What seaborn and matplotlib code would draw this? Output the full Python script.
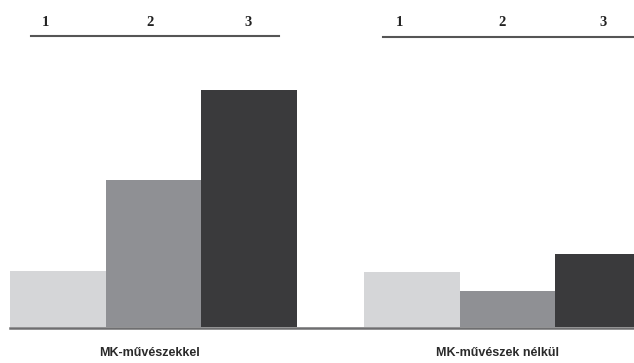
import matplotlib
matplotlib.use("Agg")
import matplotlib.pyplot as plt
import seaborn as sns
import pandas as pd
from matplotlib.lines import Line2D

groups = ["MK-művészekkel", "MK-művészek nélkül"]
categories = ["1", "2", "3"]
values_with = [56, 147, 237]
values_without = [55, 36, 73]
colors = ["#d5d6d8", "#8f9094", "#3a3a3c"]

df = pd.DataFrame({
    "group": [groups[0]] * 3 + [groups[1]] * 3,
    "cat": categories * 2,
    "value": values_with + values_without,
})

W, H = 634, 363
fig = plt.figure(figsize=(W / 100, H / 100), dpi=100)
fig.patch.set_facecolor("white")
ax = fig.add_axes([0, 0, 1, 1])
sns.barplot(data=df, x="group", y="value", hue="cat", order=groups,
            hue_order=categories, palette=colors, width=0.81, gap=0,
            saturation=1, ax=ax, legend=False, linewidth=0)
ax.set_xlim(-0.4335, 1.3575)
ax.set_ylim(-36, 327)
ax.axis("off")

# baseline
fig.add_artist(Line2D([10 / W, 1], [1 - 327.5 / H] * 2, color="#6e6e70", lw=1.8))

# top category rules and labels
fig.add_artist(Line2D([31 / W, 279 / W], [1 - 36 / H] * 2, color="#555555", lw=1.5))
fig.add_artist(Line2D([383 / W, 1], [1 - 37 / H] * 2, color="#555555", lw=1.5))
left_pos = [45, 150, 248]
right_pos = [399, 502, 603]
for c, px in zip(categories, left_pos):
    fig.text(px / W, 1 - 22 / H, c, ha="center", va="center",
             family="Liberation Serif", weight="bold", fontsize=10.5, color="#222222")
for c, px in zip(categories, right_pos):
    fig.text(px / W, 1 - 23 / H, c, ha="center", va="center",
             family="Liberation Serif", weight="bold", fontsize=10.5, color="#222222")

# group labels
for g, px in zip(groups, [150, 498]):
    fig.text(px / W, 1 - 353 / H, g, ha="center", va="center",
             family="Liberation Sans", weight="bold", fontsize=9, color="#2a2a2a")

fig.savefig("out.png", dpi=100)
